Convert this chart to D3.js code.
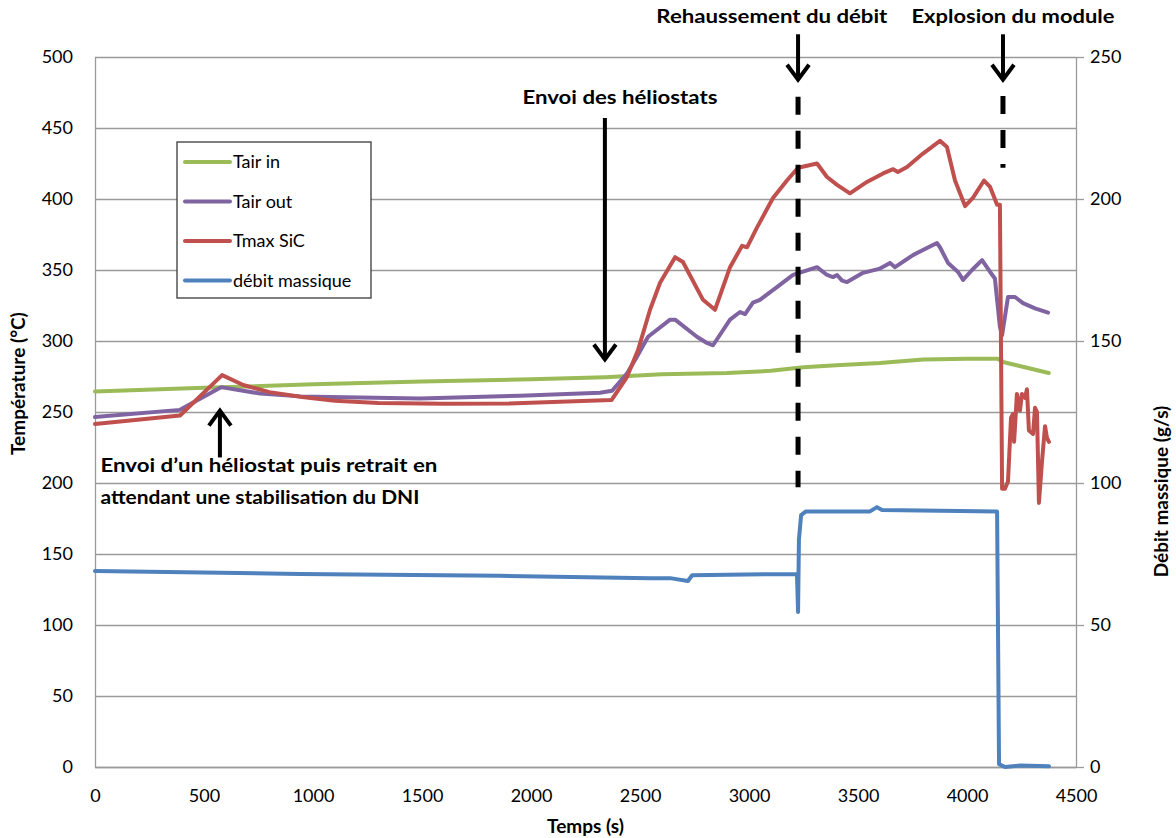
<!DOCTYPE html>
<html>
<head>
<meta charset="utf-8">
<script src="https://cdn.jsdelivr.net/npm/d3@7"></script>
<style>
  body { margin: 0; background: #fff; }
  svg { font-family: Lato, "Open Sans", sans-serif; }
</style>
</head>
<body>
<svg class="chart" width="1176" height="838"></svg>
<script>
// time (s), temperature (°C) / mass flow (g/s)
const tairIn = [
  [0,264.5],[500,267],[1000,269.5],[1500,271.5],[2000,273],[2340,274.5],[2600,276.5],
  [2900,277.5],[3100,279],[3250,281.5],[3400,283],[3600,284.5],[3800,287],[4000,287.5],
  [4140,287.5],[4170,285],[4375,277.5]
]
const tairOut = [
  [0,246.5],[390,251.5],[578,267.5],[757,263],[940,261],[1491,259.5],[1950,261.5],[2317,263.5],
  [2372,265],[2440,277],[2486,289],[2537,303],[2638,315],[2661,315],[2761,303],[2807,298.6],
  [2835,297],[2913,315],[2959,320.4],[2982,319],[3018,327],[3050,329],[3128,338],[3202,346.5],
  [3312,352],[3358,346.5],[3385,345],[3404,346.5],[3427,342.5],[3450,341.5],[3523,348],
  [3601,351],[3647,355],[3670,352],[3752,360.5],[3862,369],[3876,366],[3913,355],[3959,348.6],
  [3982,343],[4023,350],[4069,357],[4106,348.6],[4128,344],[4151,310],[4161,304],[4188,331],
  [4220,331],[4257,326.7],[4312,323],[4372,320]
]
const tmaxSiC = [
  [0,241.5],[390,247.5],[583,276],[680,269],[800,264],[950,260.5],[1100,258],[1300,256.3],
  [1600,255.8],[1900,256],[2200,257.5],[2370,258.5],[2440,274.6],[2491,293.6],[2546,322],[2592,341],
  [2661,359],[2697,355.6],[2789,329],[2844,322],[2913,352],[2968,367],[2991,366],[3037,380],
  [3110,400.7],[3174,413],[3225,422],[3312,425],[3358,415.5],[3404,410],[3463,404],[3541,412],
  [3615,418],[3661,421],[3683,419],[3725,422.5],[3798,432],[3876,441],[3908,436.6],[3945,413],
  [3991,395],[4028,401],[4078,413],[4106,408.5],[4138,396],[4151,396],[4161,196],[4174,196],
  [4188,201],[4202,246],[4211,248.6],[4216,229],[4229,262.7],[4243,251],[4252,262.7],[4266,260],
  [4275,266],[4284,237],[4303,234.5],[4312,253],[4321,250],[4330,186],[4344,215],[4358,240],
  [4367,231.7],[4376,229]
]
const debit = [
  [0,69],[940,68],[1858,67.3],[2546,66.5],[2638,66.5],[2720,65.5],[2739,67.5],[3220,68],
  [3225,54.6],[3229,80],[3239,88.7],[3261,90],[3555,90],[3587,91.5],[3610,90.5],[4138,90],
  [4147,1],[4174,0],[4243,0.5],[4376,0.3]
]

const xTicks = [0,500,1000,1500,2000,2500,3000,3500,4000,4500]
const tempTicks = [0,50,100,150,200,250,300,350,400,450,500]
const debitTicks = [0,50,100,150,200,250]

const series = [
  {name:'Tair in', data:tairIn, color:'#9bbb59', axis:'T'},
  {name:'Tair out', data:tairOut, color:'#8064a2', axis:'T'},
  {name:'Tmax SiC', data:tmaxSiC, color:'#c0504d', axis:'T'},
  {name:'débit massique', data:debit, color:'#4f81bd', axis:'D'}
]

const svg = d3.select('.chart')
const x = d3.scaleLinear().domain([0,4500]).range([95,1076])
const yT = d3.scaleLinear().domain([0,500]).range([767,57])
const yD = d3.scaleLinear().domain([0,250]).range([767,57])

const gridColor = '#9a9a9a'

// horizontal gridlines
svg.append('g')
  .attr('transform',`translate(${x(0)},0)`)
  .call(d3.axisLeft(yT).tickValues(tempTicks).tickSize(-(x(4500)-x(0))).tickFormat(''))
  .call(g => g.select('.domain').remove())
  .call(g => g.selectAll('line').attr('stroke',gridColor).attr('stroke-width',1.3))

// left axis
svg.append('g')
  .attr('transform',`translate(${x(0)},0)`)
  .call(d3.axisLeft(yT).tickValues(tempTicks).tickSize(0).tickPadding(22))
  .call(g => g.select('.domain').attr('stroke',gridColor).attr('stroke-width',1.3))
  .call(g => g.selectAll('text').attr('font-size',18).attr('fill','#000').attr('font-family','Lato'))

// right axis
svg.append('g')
  .attr('transform',`translate(${x(4500)},0)`)
  .call(d3.axisRight(yD).tickValues(debitTicks).tickSizeInner(8).tickSizeOuter(0).tickPadding(6))
  .call(g => g.select('.domain').attr('stroke',gridColor).attr('stroke-width',1.3))
  .call(g => g.selectAll('line').attr('stroke',gridColor).attr('stroke-width',1.3))
  .call(g => g.selectAll('text').attr('font-size',18).attr('fill','#000').attr('font-family','Lato'))

// bottom axis
svg.append('g')
  .attr('transform',`translate(0,${yT(0)})`)
  .call(d3.axisBottom(x).tickValues(xTicks).tickSize(0).tickPadding(22).tickFormat(d3.format('d')))
  .call(g => g.select('.domain').attr('stroke',gridColor).attr('stroke-width',1.3))
  .call(g => g.selectAll('text').attr('font-size',18).attr('fill','#000').attr('font-family','Lato'))

// axis titles
svg.append('text')
  .attr('transform',`translate(25,${yT(270)}) rotate(-90)`)
  .attr('text-anchor','middle').attr('font-weight','bold').attr('font-size',19)
  .text('Température (°C)')
svg.append('text')
  .attr('transform',`translate(1168,${yD(97)}) rotate(-90)`)
  .attr('text-anchor','middle').attr('font-weight','bold').attr('font-size',19)
  .text('Débit massique  (g/s)')
svg.append('text')
  .attr('x',x(2250)).attr('y',833)
  .attr('text-anchor','middle').attr('font-weight','bold').attr('font-size',19)
  .text('Temps (s)')

// data lines
const lines = svg.append('g')
series.forEach(s => {
  const yS = s.axis === 'T' ? yT : yD
  lines.append('path')
    .datum(s.data)
    .attr('fill','none')
    .attr('stroke',s.color)
    .attr('stroke-width',4)
    .attr('stroke-linejoin','round')
    .attr('stroke-linecap','round')
    .attr('d',d3.line().x(d => x(d[0])).y(d => yS(d[1])))
})

// annotations: dashed markers and arrows (time, temperature)
const dashMarks = [
  {t:3225, from:472, to:197},
  {t:4165, from:472.5, to:422}
]
const arrows = [
  {t:2339, from:457, to:287},
  {t:3225, from:516, to:484},
  {t:4165, from:516, to:484},
  {t:573, from:218, to:251}
]
const notes = [
  {lines:['Rehaussement du débit'], t:3105, T:524, w:231},
  {lines:['Explosion du module'], t:4211, T:524, w:203},
  {lines:['Envoi des héliostats'], t:2408, T:467, w:195},
  {lines:['Envoi d’un héliostat puis retrait en','attendant une stabilisation du DNI'], t:25, T:208, w:[337,319], anchor:'start'}
]

const ann = svg.append('g')
dashMarks.forEach(d => {
  ann.append('line')
    .attr('x1',x(d.t)).attr('x2',x(d.t))
    .attr('y1',yT(d.from)).attr('y2',yT(d.to))
    .attr('stroke','#000').attr('stroke-width',5)
    .attr('stroke-dasharray','18,16')
})
arrows.forEach(a => {
  const x0 = x(a.t), y0 = yT(a.from), y1 = yT(a.to)
  const dir = y1 > y0 ? 1 : -1
  ann.append('line')
    .attr('x1',x0).attr('x2',x0).attr('y1',y0).attr('y2',y1 - dir*2)
    .attr('stroke','#000').attr('stroke-width',4)
  ann.append('path')
    .attr('d',`M${x0-11},${y1 - dir*15}L${x0},${y1}L${x0+11},${y1 - dir*15}`)
    .attr('fill','none').attr('stroke','#000').attr('stroke-width',4)
    .attr('stroke-linejoin','miter')
})
notes.forEach(n => {
  n.lines.forEach((l,i) => {
    const w = Array.isArray(n.w) ? n.w[i] : n.w
    ann.append('text')
      .attr('x',x(n.t)).attr('y',yT(n.T) + i*32)
      .attr('text-anchor',n.anchor || 'middle')
      .attr('font-weight','bold').attr('font-size',19)
      .attr('textLength',w).attr('lengthAdjust','spacingAndGlyphs')
      .text(l)
  })
})

// legend
const legend = svg.append('g').attr('transform','translate(177,142)')
legend.append('rect')
  .attr('width',194).attr('height',156)
  .attr('fill','#fff').attr('stroke','#3a3a3a').attr('stroke-width',1.3)
series.forEach((s,i) => {
  const row = legend.append('g').attr('transform',`translate(0,${20 + i*39.5})`)
  row.append('line')
    .attr('x1',8).attr('x2',53)
    .attr('stroke',s.color).attr('stroke-width',4).attr('stroke-linecap','round')
  row.append('text')
    .attr('x',56).attr('dy','0.35em')
    .attr('font-size',18)
    .text(s.name)
})
</script>
</body>
</html>
